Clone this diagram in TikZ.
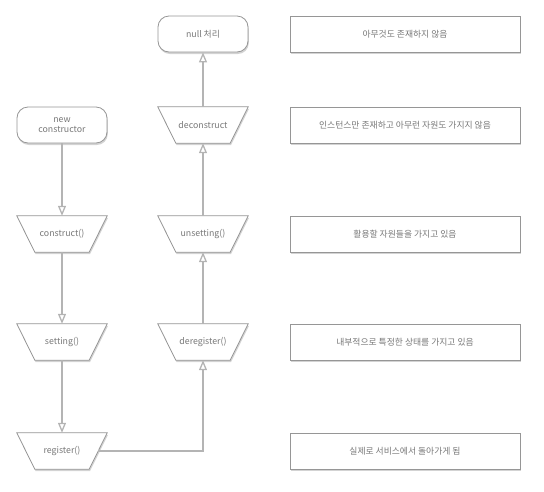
\documentclass[tikz,border=0pt]{standalone}
\usepackage{fontspec}
\setmainfont{Noto Sans CJK KR}
\usetikzlibrary{shadows,arrows.meta,backgrounds}
\definecolor{edgegray}{HTML}{969696}
\definecolor{linegray}{HTML}{B4B4B4}
\definecolor{txtgray}{HTML}{787878}
\begin{document}
\begin{tikzpicture}[x=1pt,y=-1pt,
  txt/.style={text=txtgray, font=\fontsize{8.8}{10.5}\selectfont, align=center, inner sep=0pt},
  boxlook/.style={draw=edgegray, line width=0.8pt, fill=white,
    drop shadow={opacity=0.35, shadow xshift=0.8pt, shadow yshift=-2pt}},
  base/.style={txt, boxlook},
  term/.style={base, rounded corners=11pt, minimum width=90pt, minimum height=36pt},
  trap/.style={txt, rectangle, minimum width=90pt, minimum height=36pt},
  note/.style={base, rectangle, minimum width=230pt, minimum height=36pt},
  flow/.style={draw=linegray, line width=1.5pt, -{Triangle[open, length=10pt, width=8pt, line width=1.3pt]}}
]
\useasboundingbox (0,0) rectangle (544,491);
% left column
\node[term] (nc) at (62,125) {new\\constructor};
\node[trap] (cons) at (62,234) {construct()};
\node[trap] (set) at (62,342) {setting()};
\node[trap] (reg) at (62,451) {register()};
% right column
\node[term] (null) at (203,34) {null 처리};
\node[trap] (decons) at (203,125) {deconstruct};
\node[trap] (unset) at (203,234) {unsetting()};
\node[trap] (dereg) at (203,342) {deregister()};
% trapezoid outlines
\begin{scope}[on background layer]
\foreach \n in {cons,set,reg,decons,unset,dereg}
  \path[boxlook] (\n.north west) -- (\n.north east) -- ([xshift=-18pt]\n.south east) -- ([xshift=18pt]\n.south west) -- cycle;
\end{scope}
% notes
\node[note] (n1) at (405,34) {아무것도 존재하지 않음};
\node[note] (n2) at (405,125) {인스턴스만 존재하고 아무런 자원도 가지지 않음};
\node[note] (n3) at (405,234) {활용할 자원들을 가지고 있음};
\node[note] (n4) at (405,342) {내부적으로 특정한 상태를 가지고 있음};
\node[note] (n5) at (405,451) {실제로 서비스에서 돌아가게 됨};
% connectors
\draw[flow] (nc) -- (cons);
\draw[flow] (cons) -- (set);
\draw[flow] (set) -- (reg);
\draw[flow] ([xshift=-9pt]reg.east) -| (dereg.south);
\draw[flow] (dereg) -- (unset);
\draw[flow] (unset) -- (decons);
\draw[flow] (decons) -- (null);
\end{tikzpicture}
\end{document}
